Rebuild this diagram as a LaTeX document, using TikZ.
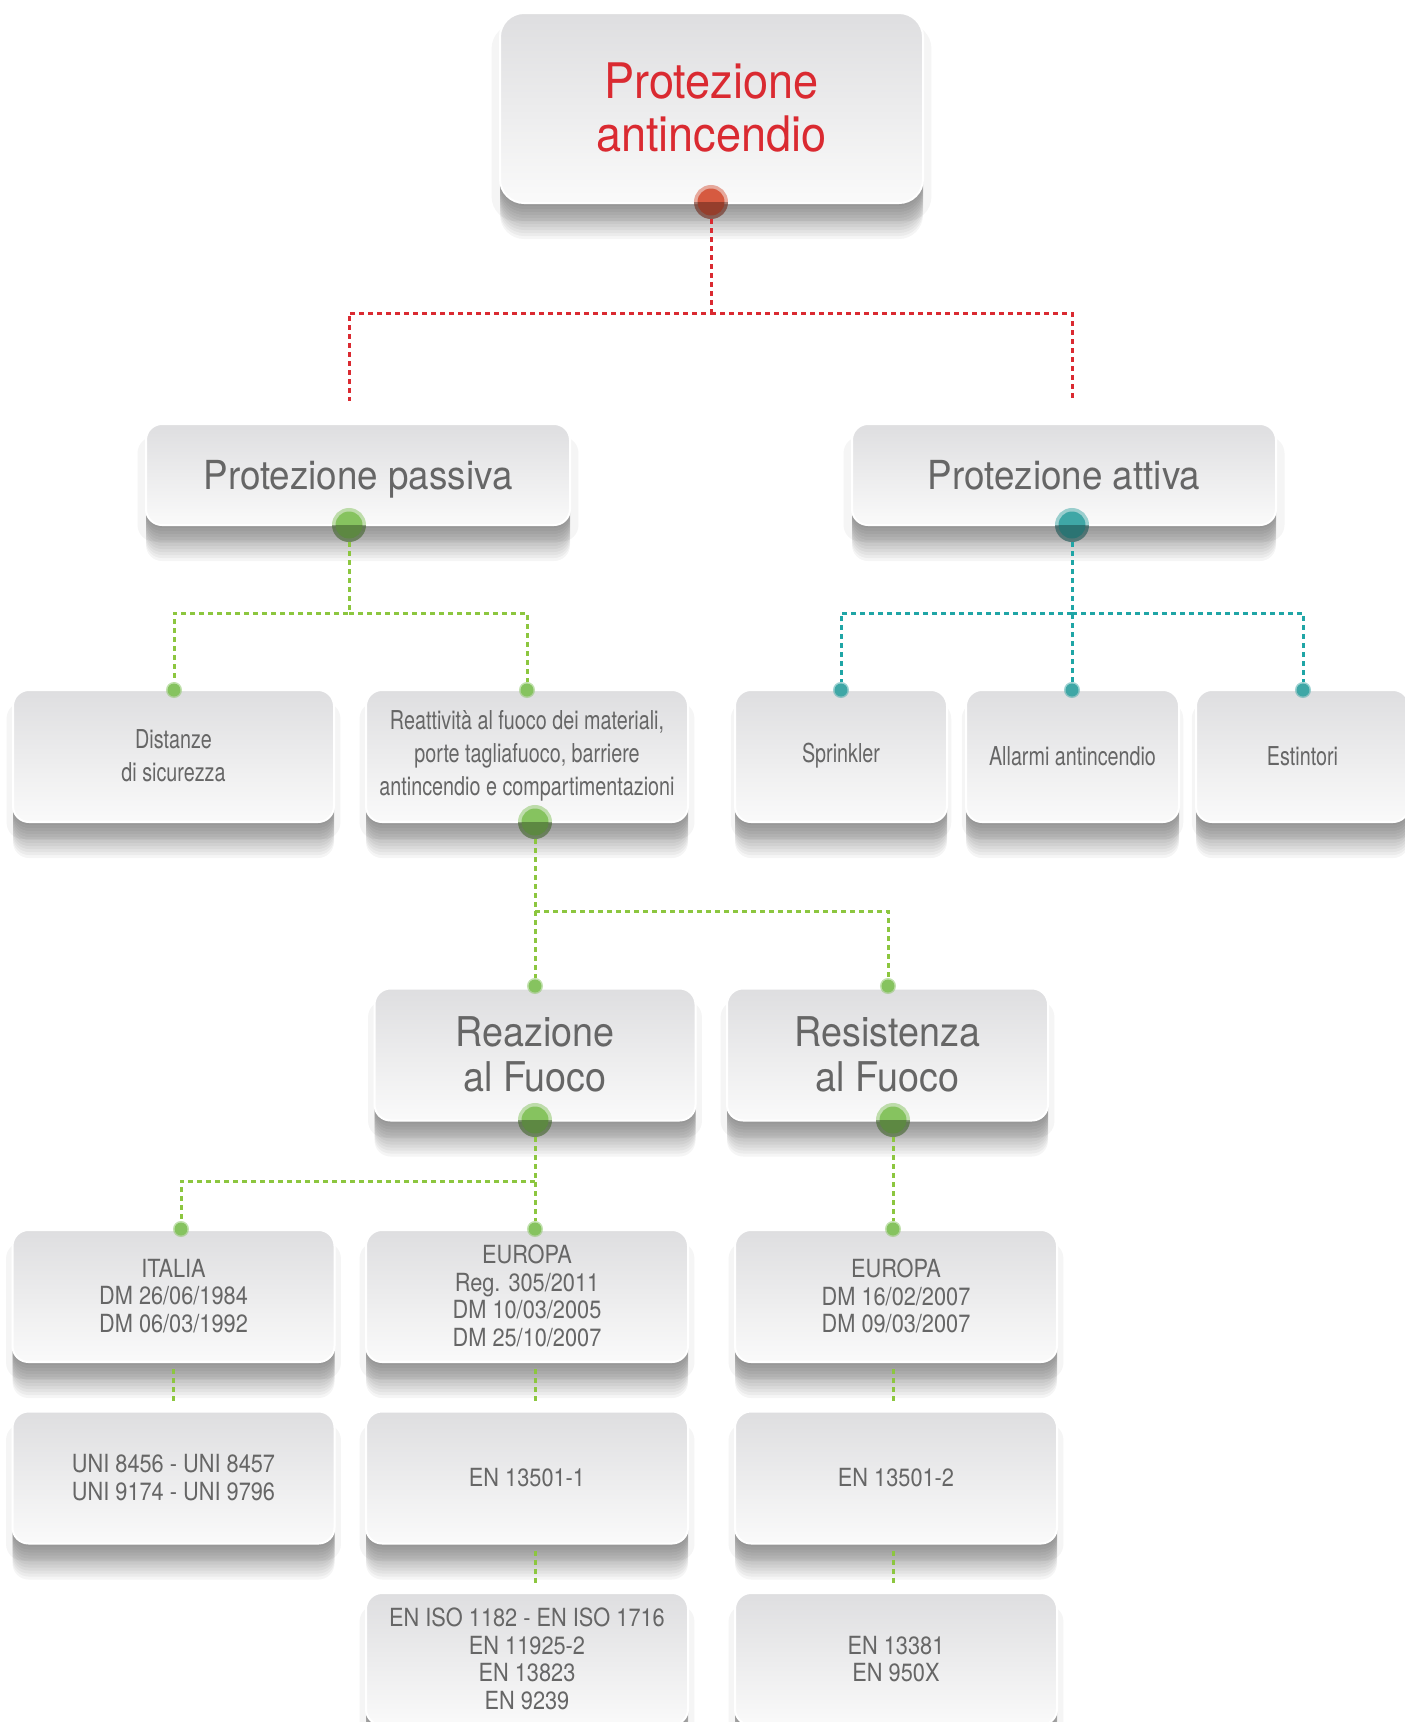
\documentclass[tikz,border=0pt]{standalone}
\usepackage{fontspec}
\setmainfont{TeX Gyre Heros}[FakeStretch=0.92]
\newfontfamily\narrowfont{TeX Gyre Heros}[FakeStretch=0.76]
\newfontfamily\normfont{TeX Gyre Heros}[FakeStretch=0.87]
\usetikzlibrary{shadows}

\definecolor{cardtop}{HTML}{DEDEE0}
\definecolor{cardbot}{HTML}{FAFAFA}
\definecolor{cardtext}{HTML}{666666}
\definecolor{firered}{HTML}{DA2A31}
\definecolor{dotred}{HTML}{D65A40}
\definecolor{leafgreen}{HTML}{8CC63F}
\definecolor{dotgreen}{HTML}{86C35F}
\definecolor{teal}{HTML}{1FA5A6}
\definecolor{dotteal}{HTML}{3FA7A6}

\tikzset{
  shadowlayer/.style={drop shadow={shadow xshift=0pt, shadow yshift=-#1pt, opacity=.04, fill=black}},
  card/.style={rounded corners=16pt, draw=white, line width=2pt,
    top color=cardtop, bottom color=cardbot, text=cardtext,
    align=center, inner sep=0pt, minimum height=132pt,
    drop shadow={shadow xshift=0pt, shadow yshift=-14pt, shadow scale=1.04, opacity=.04, fill=black},
    shadowlayer/.list={3,6,...,36}},
  leaf/.style={card, font=\narrowfont\fontsize{26}{33}\selectfont},
  norm/.style={card, minimum width=322pt, font=\normfont\fontsize{25}{27.5}\selectfont},
  title/.style={card, minimum width=424pt, minimum height=101pt,
    text height=29pt, text depth=0pt, font=\fontsize{40}{44}\selectfont},
  branch/.style={card, minimum width=321pt, font=\fontsize{41}{45}\selectfont},
  bigdot/.style={circle, inner sep=0pt, minimum size=27pt, line width=7pt,
    draw=#1, draw opacity=.5, fill=#1},
  smalldot/.style={circle, inner sep=0pt, minimum size=13pt, line width=3pt,
    draw=#1, draw opacity=.5, fill=#1},
  redline/.style={draw=firered, line width=3pt, dash pattern=on 5pt off 4pt},
  greenline/.style={draw=leafgreen, line width=3pt, dash pattern=on 5pt off 4pt},
  tealline/.style={draw=teal, line width=3pt, dash pattern=on 5pt off 4pt},
}

\begin{document}
\begin{tikzpicture}[x=1pt, y=-1pt]
  \useasboundingbox (0,0) rectangle (1405,1722);
  \clip (0,0) rectangle (1405,1722);

  % boxes
  \node[card, rounded corners=24pt, minimum width=423pt, minimum height=190pt,
    text=firered, font=\fontsize{49}{53}\selectfont] (root) at (711.5,108) {Protezione\\antincendio};

  \node[title] (passiva) at (358,474.5) {Protezione passiva};
  \node[title] (attiva) at (1064,474.5) {Protezione attiva};

  \node[leaf, minimum width=321pt] (distanze) at (173.5,756) {Distanze\\di sicurezza};
  \node[leaf, minimum width=322pt] (reattivita) at (527,756)
    {Reattività al fuoco dei materiali,\\porte tagliafuoco, barriere\\antincendio e compartimentazioni};
  \node[leaf, minimum width=212pt] (sprinkler) at (841,756) {Sprinkler};
  \node[leaf, minimum width=213pt] (allarmi) at (1072.5,756) {Allarmi antincendio};
  \node[leaf, minimum width=213pt] (estintori) at (1302.5,756) {Estintori};

  \node[branch] (reazione) at (535,1054.5) {Reazione\\al Fuoco};
  \node[branch] (resistenza) at (887.5,1054.5) {Resistenza\\al Fuoco};

  \node[norm] (italia) at (173.5,1296) {ITALIA\\DM 26/06/1984\\DM 06/03/1992};
  \node[norm] (europa) at (527,1296) {EUROPA\\Reg. 305/2011\\DM 10/03/2005\\DM 25/10/2007};
  \node[norm] (europab) at (896,1296) {EUROPA\\DM 16/02/2007\\DM 09/03/2007};

  \node[norm] (uni) at (173.5,1477.5) {UNI 8456 - UNI 8457\\UNI 9174 - UNI 9796};
  \node[norm] (ena) at (527,1477.5) {EN 13501-1};
  \node[norm] (enb) at (896,1477.5) {EN 13501-2};

  \node[norm] (iso) at (527,1659) {EN ISO 1182 - EN ISO 1716\\EN 11925-2\\EN 13823\\EN 9239};
  \node[norm] (enc) at (896,1659) {EN 13381\\EN 950X};

  % dots
  \node[bigdot=dotred] (rootdot) at (711,202) {};
  \node[bigdot=dotgreen] (pasdot) at (349,525) {};
  \node[bigdot=dotteal] (attdot) at (1072,525) {};
  \node[bigdot=dotgreen] (reatdot) at (535,822) {};
  \node[bigdot=dotgreen] (reazdot) at (535,1120) {};
  \node[bigdot=dotgreen] (resdot) at (893,1120) {};

  \node[smalldot=dotgreen] (dista) at (174,690) {};
  \node[smalldot=dotgreen] (distb) at (527,690) {};
  \node[smalldot=dotteal] (atta) at (841,690) {};
  \node[smalldot=dotteal] (attb) at (1072,690) {};
  \node[smalldot=dotteal] (attc) at (1303,690) {};
  \node[smalldot=dotgreen] (fuoa) at (535,986) {};
  \node[smalldot=dotgreen] (fuob) at (888,986) {};
  \node[smalldot=dotgreen] (rega) at (181,1229) {};
  \node[smalldot=dotgreen] (regb) at (535,1229) {};
  \node[smalldot=dotgreen] (regc) at (893,1229) {};

  \foreach \d in {rootdot,pasdot,attdot,reatdot,reazdot,resdot}
    \fill[black, opacity=.3] (\d.east) arc[start angle=0, end angle=-180, radius=17pt] -- cycle;

  % links
  \coordinate (rootbus) at (711,313);
  \coordinate (pasin) at (349,401);
  \coordinate (attin) at (1072,401);
  \draw[redline] (rootdot) -- (rootbus) -| (pasin);
  \draw[redline] (rootbus) -| (attin);

  \coordinate (pasbus) at (349,613);
  \draw[greenline] (pasdot) -- (pasbus) -| (dista);
  \draw[greenline] (pasbus) -| (distb);

  \coordinate (attbus) at (1072,613);
  \draw[tealline] (attdot) -- (attb);
  \draw[tealline] (attbus) -| (atta);
  \draw[tealline] (attbus) -| (attc);

  \coordinate (reatbus) at (535,911);
  \draw[greenline] (reatdot) -- (fuoa);
  \draw[greenline] (reatbus) -| (fuob);

  \coordinate (reazbus) at (535,1181);
  \draw[greenline] (reazdot) -- (regb);
  \draw[greenline] (reazbus) -| (rega);
  \draw[greenline] (resdot) -- (regc);

  \draw[greenline, shorten <=6pt, shorten >=6pt] (italia) -- (uni);
  \draw[greenline, shorten <=6pt, shorten >=6pt] (europa.south -| regb) -- (ena.north -| regb);
  \draw[greenline, shorten <=6pt, shorten >=6pt] (europab.south -| regc) -- (enb.north -| regc);
  \draw[greenline, shorten <=6pt, shorten >=6pt] (ena.south -| regb) -- (iso.north -| regb);
  \draw[greenline, shorten <=6pt, shorten >=6pt] (enb.south -| regc) -- (enc.north -| regc);
\end{tikzpicture}
\end{document}
